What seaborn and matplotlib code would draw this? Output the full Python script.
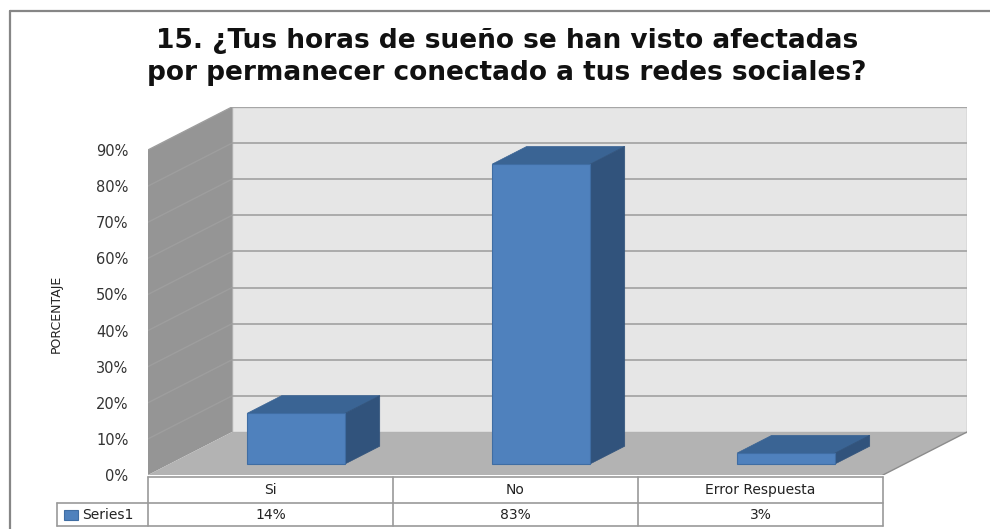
import matplotlib
matplotlib.use("Agg")
import matplotlib.pyplot as plt
import seaborn as sns
from matplotlib.patches import Polygon, Rectangle
from matplotlib.lines import Line2D

# datos
categorias = ["Si", "No", "Error Respuesta"]
porcentajes = [14, 83, 3]
serie = "Series1"
ticks_y = [0, 10, 20, 30, 40, 50, 60, 70, 80, 90]
titulo = "15. ¿Tus horas de sueño se han visto afectadas\npor permanecer conectado a tus redes sociales?"
etiqueta_y = "PORCENTAJE"

# colores estilo Excel 2007
AZUL = "#4f81bd"
AZUL_TOP = "#3a6494"
AZUL_LADO = "#31537c"
PARED = "#e6e6e6"
PARED_IZQ = "#959595"
PISO = "#b3b3b3"
GRID = "#a6a6a6"

# profundidad (oblicua) en unidades de datos
DX, DY = 0.343, 11.9
F0, F1 = 0.26, 0.67   # posicion de las barras dentro de la profundidad
PX = 3.61             # pixeles por punto porcentual

sns.set_style("white")
plt.rcParams["font.family"] = ["DejaVu Sans"]

fig = plt.figure(figsize=(9.9, 5.29), dpi=100)
ax = fig.add_axes([148 / 990, (529 - 475) / 529, (967 - 148) / 990, (475 - 107) / 529])

n = len(categorias)
x_ini, x_fin = -0.5, n - 0.5
y_max = ticks_y[-1]

# pared del fondo
ax.add_patch(Rectangle((x_ini + DX, DY), n, y_max, facecolor=PARED,
                       edgecolor="#b0b0b0", lw=1, zorder=0))
for v in ticks_y[1:]:
    ax.plot([x_ini + DX, x_fin + DX], [v + DY, v + DY], color=GRID, lw=1.3, zorder=1)

# pared izquierda
ax.add_patch(Polygon([(x_ini, 0), (x_ini, y_max), (x_ini + DX, y_max + DY), (x_ini + DX, DY)],
                     closed=True, facecolor=PARED_IZQ, edgecolor="none", zorder=1))
for v in ticks_y[1:]:
    ax.plot([x_ini, x_ini + DX], [v, v + DY], color="#9e9e9e", lw=1, zorder=1.5)

# piso
ax.add_patch(Polygon([(x_ini, 0), (x_fin, 0), (x_fin + DX, DY), (x_ini + DX, DY)],
                     closed=True, facecolor=PISO, edgecolor="none", zorder=2))
ax.plot([x_fin, x_fin + DX], [0, DY], color="#8c8c8c", lw=1, zorder=2.5)

# barras (cara frontal con seaborn, luego caras 3D)
sns.barplot(x=categorias, y=porcentajes, color=AZUL, saturation=1, width=0.4,
            errorbar=None, ax=ax, zorder=5)
d = F1 - F0
for p in ax.patches:
    if not isinstance(p, Rectangle) or p.get_facecolor()[:3] != matplotlib.colors.to_rgb(AZUL):
        continue
    x0 = p.get_x() + F0 * DX + 0.016
    y0 = F0 * DY
    w, h = p.get_width(), p.get_height()
    p.set_x(x0)
    p.set_y(y0)
    p.set_edgecolor("#3f6da3")
    p.set_linewidth(0.8)
    p.set_zorder(5)
    ax.add_patch(Polygon([(x0, y0 + h), (x0 + w, y0 + h), (x0 + w + d * DX, y0 + h + d * DY),
                          (x0 + d * DX, y0 + h + d * DY)], closed=True,
                         facecolor=AZUL_TOP, edgecolor=AZUL_TOP, lw=0.5, zorder=4))
    ax.add_patch(Polygon([(x0 + w, y0), (x0 + w, y0 + h), (x0 + w + d * DX, y0 + h + d * DY),
                          (x0 + w + d * DX, y0 + d * DY)], closed=True,
                         facecolor=AZUL_LADO, edgecolor=AZUL_LADO, lw=0.5, zorder=4))

ax.set_xlim(x_ini, x_fin + DX)
ax.set_ylim(0, y_max + DY)
ax.set_yticks(ticks_y)
ax.set_yticklabels([f"{v}%" for v in ticks_y], fontsize=10.5, color="#333333")
ax.tick_params(axis="y", length=0, pad=14)
ax.set_xticks([])
ax.set_xlabel("")
for s in ax.spines.values():
    s.set_visible(False)
ax.set_ylabel(etiqueta_y, fontsize=9, family=["Liberation Sans Narrow", "DejaVu Sans"],
              color="#222222")
ax.yaxis.set_label_coords(-0.104, 0.4375)

# tabla de datos
t0 = -2 / PX
t1 = -28 / PX
t2 = -51 / PX
x_ley = x_ini - 91 / 245
col = "#9a9a9a"
kw = dict(color=col, lw=1.2, clip_on=False, zorder=6)
ax.plot([x_ini, x_fin], [t0, t0], **kw)
ax.plot([x_ley, x_fin], [t1, t1], **kw)
ax.plot([x_ley, x_fin], [t2, t2], **kw)
ax.plot([x_ley, x_ley], [t1, t2], **kw)
for i in range(n + 1):
    ax.plot([x_ini + i, x_ini + i], [t0, t2], **kw)
for i, (c, v) in enumerate(zip(categorias, porcentajes)):
    ax.text(i, (t0 + t1) / 2, c, ha="center", va="center", fontsize=10, color="#222222")
    ax.text(i, (t1 + t2) / 2, f"{v}%", ha="center", va="center", fontsize=10, color="#222222")
ax.add_patch(Rectangle((x_ley + 7 / 245, (t1 + t2) / 2 - 5 / PX), 14 / 245, 10 / PX,
                       facecolor=AZUL, edgecolor="#3f6da3", lw=0.8, clip_on=False, zorder=7))
ax.text(x_ley + 25 / 245, (t1 + t2) / 2, serie, ha="left", va="center", fontsize=10,
        color="#222222")

# titulo
fig.text(507 / 990, (529 - 57) / 529, titulo, ha="center", va="center", fontsize=19,
         fontweight="bold", family=["DejaVu Sans"], linespacing=1.35, color="#111111")

# borde del grafico
fig.add_artist(Line2D([9.5 / 990, 1], [1 - 11 / 529, 1 - 11 / 529], color="#868686", lw=1.6,
                      transform=fig.transFigure))
fig.add_artist(Line2D([9.5 / 990, 9.5 / 990], [0, 1 - 11 / 529], color="#868686", lw=1.6,
                      transform=fig.transFigure))

fig.savefig("out.png", dpi=100, facecolor="white")
